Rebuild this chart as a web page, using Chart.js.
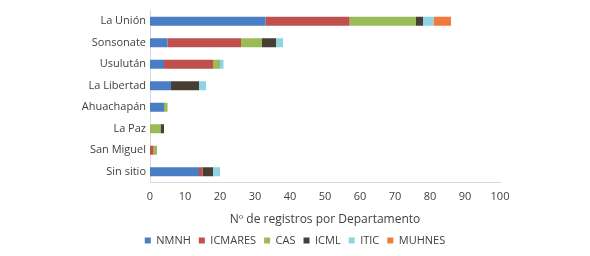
<!DOCTYPE html>
<html><head><meta charset="utf-8">
<script src="https://cdn.jsdelivr.net/npm/chart.js@4"></script>
<style>html,body{margin:0;padding:0;background:#fff}#w{width:590px;height:256px}</style>
</head><body><div id="w"><canvas id="c"></canvas></div>
<script>
const categories = ["La Unión","Sonsonate","Usulután","La Libertad","Ahuachapán","La Paz","San Miguel","Sin sitio"];
const NMNH    = [33, 5, 4, 6, 4, 0, 0, 14];
const ICMARES = [24, 21, 14, 0, 0, 0, 1, 1];
const CAS     = [19, 6, 2, 0, 1, 3, 1, 0];
const ICML    = [2, 4, 0, 8, 0, 1, 0, 3];
const ITIC    = [3, 2, 1, 2, 0, 0, 0, 2];
const MUHNES  = [5, 0, 0, 0, 0, 0, 0, 0];
const xTicks = [0,10,20,30,40,50,60,70,80,90,100];
const xTitle = "Nº de registros por Departamento";

const series = [
  ["NMNH", NMNH, "#4a7ec4"],
  ["ICMARES", ICMARES, "#c0504d"],
  ["CAS", CAS, "#9bbb59"],
  ["ICML", ICML, "#483f33"],
  ["ITIC", ITIC, "#8fd3e4"],
  ["MUHNES", MUHNES, "#f07a3a"]
];
const font = {family: "'Open Sans', 'Noto Sans', sans-serif", size: 11};
new Chart(document.getElementById('c'), {
  type: 'bar',
  data: {
    labels: categories,
    datasets: series.map(([n, d, c]) => ({label: n, data: d, backgroundColor: c, borderWidth: 0,
      categoryPercentage: 1, barPercentage: 0.42}))
  },
  options: {
    indexAxis: 'y', responsive: true, maintainAspectRatio: false, animation: false,
    layout: {padding: {left: 0, right: 0, top: 1, bottom: 0}},
    plugins: {
      tooltip: {enabled: false},
      legend: {position: 'bottom', labels: {boxWidth: 6, boxHeight: 6, padding: 8, color: '#404040', font: font}}
    },
    scales: {
      x: {stacked: true, min: 0, max: 100,
        ticks: {stepSize: 10, color: '#404040', font: font, padding: 8,
          callback: (v) => xTicks.includes(v) ? String(v) : ''},
        grid: {display: false, drawTicks: false, tickLength: 0},
        border: {display: true, color: '#d9d9d9'},
        title: {display: true, text: xTitle, color: '#404040', font: {family: font.family, size: 12}, padding: {top: 1, bottom: 0}},
        afterFit: (s) => { s.paddingRight = 90; }
      },
      y: {stacked: true,
        ticks: {color: '#404040', font: font, padding: 4},
        grid: {display: false, drawTicks: false, tickLength: 0},
        border: {display: true, color: '#d9d9d9'},
        afterFit: (s) => { s.width = 150; }
      }
    }
  }
});
</script></body></html>
